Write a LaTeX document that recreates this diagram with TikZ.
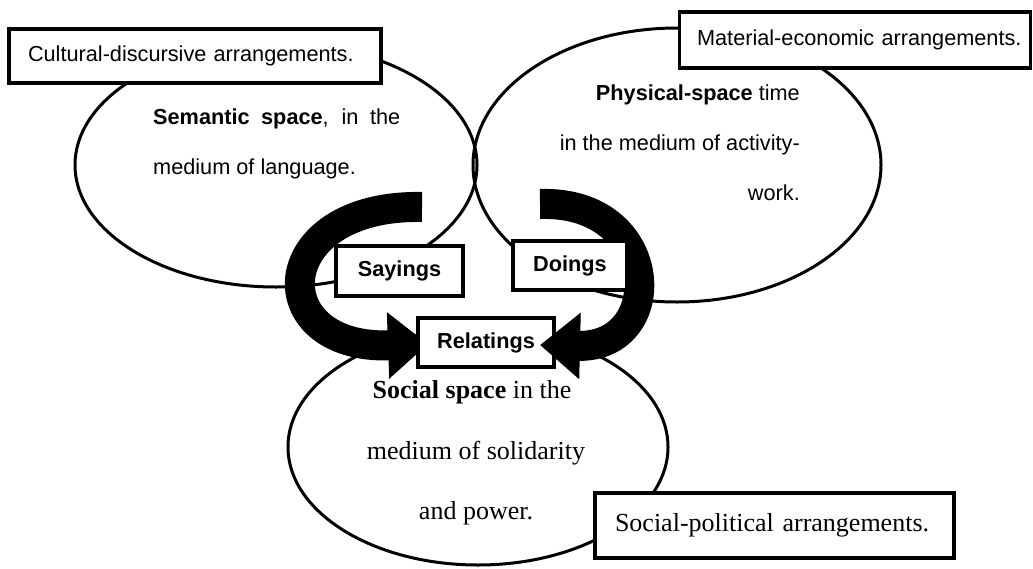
\documentclass[tikz,border=0pt]{standalone}
\usepackage{fontspec}
\setmainfont{Liberation Serif}
\newfontfamily\arialfont{Liberation Sans}
\usetikzlibrary{shapes.geometric,arrows.meta}
\begin{document}
\begin{tikzpicture}[x=1pt,y=-1pt,
  space/.style={ellipse, draw, line width=3pt, inner sep=0pt},
  lbox/.style={draw, line width=3.5pt, fill=white, inner sep=0pt},
  sans/.style={font=\arialfont\fontsize{21.7}{26}\selectfont},
  serif/.style={font=\fontsize{26}{31}\selectfont},
  bigarrow/.style={line width=30pt, -{Triangle[length=40pt,width=64pt]}},
  txt/.style={inner sep=0pt}
]
\useasboundingbox (0,0) rectangle (1033,568);
% ellipses
\node[space, minimum width=402pt, minimum height=244pt] (sem) at (276,165) {};
\node[space, minimum width=408pt, minimum height=274pt] (phys) at (677,165) {};
\node[space, minimum width=380pt, minimum height=236pt] (soc) at (478,447) {};
% arrows and middle boxes
\coordinate (saytail) at (422,207);
\coordinate (saytip) at (428,344);
\coordinate (dotail) at (540,204);
\coordinate (dotip) at (540,345);
\draw[bigarrow] (saytail) .. controls (268,204) and (262,350) .. (saytip);
\node[lbox, sans, minimum width=136pt, minimum height=49pt] (rel) at (486,342.5) {\textbf{Relatings}};
\draw[bigarrow] (dotail) .. controls (662,200) and (668,348) .. (dotip);
\node[lbox, sans, minimum width=127pt, minimum height=50pt] (say) at (399.5,271) {\textbf{Sayings}};
\node[lbox, sans, minimum width=114pt, minimum height=49pt] (do) at (570,265.5) {\textbf{Doings}};
% arrangement boxes
\node[lbox, sans, text width=334pt, inner xsep=19pt, minimum height=54pt, align=left] (cult) at (195,56) {Cultural-discursive arrangements.};
\node[lbox, sans, text width=333pt, inner xsep=9pt, minimum height=56pt, align=right] (mat) at (855,40) {Material-economic arrangements.};
\node[lbox, serif, text width=319pt, inner xsep=20pt, minimum height=65pt, align=left] (socpol) at (774.5,525.5) {Social-political arrangements.};
% ellipse texts
\node[txt, sans, anchor=base west] (sem1) at (153,124) {\makebox[247pt][s]{\textbf{Semantic space}, in the}};
\node[txt, sans, anchor=base west] (sem2) at (153,174) {medium of language.};
\node[txt, sans, anchor=base east] (phys1) at (800,100) {\textbf{Physical-space} time};
\node[txt, sans, anchor=base east] (phys2) at (800,150) {in the medium of activity-};
\node[txt, sans, anchor=base east] (phys3) at (800,200) {work.};
\node[txt, serif, anchor=base] (soc1) at (472,398) {\textbf{Social space} in the};
\node[txt, serif, anchor=base] (soc2) at (476,459) {medium of solidarity};
\node[txt, serif, anchor=base] (soc3) at (476,519) {and power.};
\end{tikzpicture}
\end{document}
